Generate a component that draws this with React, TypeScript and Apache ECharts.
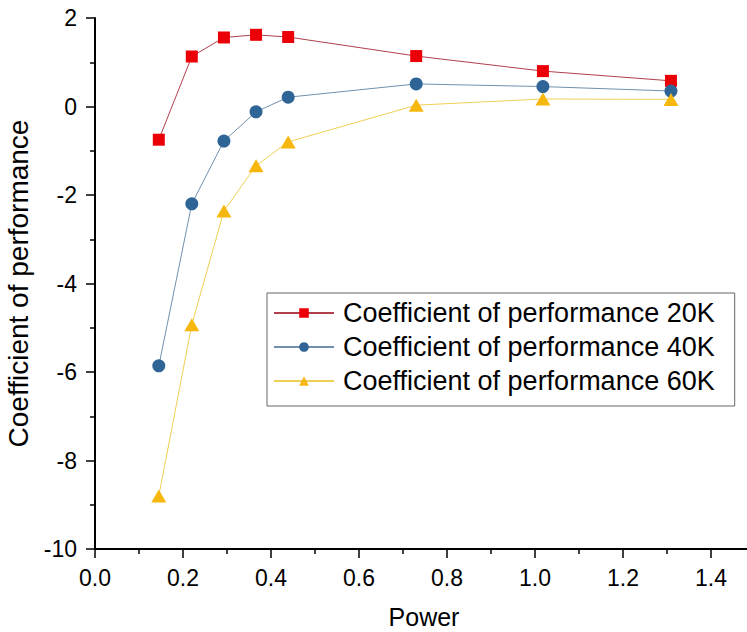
import React, { useEffect, useRef } from "react";
import * as echarts from "echarts";

const power = [0.145, 0.22, 0.293, 0.366, 0.439, 0.73, 1.018, 1.309];
const cop20K = [-0.75, 1.13, 1.56, 1.62, 1.57, 1.14, 0.8, 0.58];
const cop40K = [-5.86, -2.2, -0.78, -0.12, 0.21, 0.51, 0.45, 0.35];
const cop60K = [-8.8, -4.93, -2.36, -1.34, -0.8, 0.03, 0.17, 0.16];
const seriesNames = [
  "Coefficient of performance 20K",
  "Coefficient of performance 40K",
  "Coefficient of performance 60K",
];
const xTitle = "Power";
const yTitle = "Coefficient of performance";

const FONT = "Arial, 'Liberation Sans', sans-serif";

export default function App() {
  const ref = useRef<HTMLDivElement>(null);
  useEffect(() => {
    if (!ref.current) return;
    const chart = echarts.init(ref.current, null, { renderer: "svg" });
    const axisCommon = {
      axisLine: { show: true, onZero: false, lineStyle: { color: "#000", width: 2 } },
      axisTick: { show: true, inside: false, length: 9, lineStyle: { color: "#000", width: 1.5 } },
      minorTick: { show: true, splitNumber: 2, length: 5, lineStyle: { color: "#000", width: 1.5 } },
      splitLine: { show: false },
      minorSplitLine: { show: false },
    };
    const mk = (name: string, data: number[], symbol: string, size: any, fill: string, line: string) => ({
      name,
      type: "line",
      data: power.map((p, i) => [p, data[i]]),
      symbol,
      symbolSize: size,
      showAllSymbol: true,
      itemStyle: { color: fill, borderWidth: 0 },
      lineStyle: { color: line, width: 1 },
    });
    chart.setOption({
      animation: false,
      backgroundColor: "#fff",
      textStyle: { fontFamily: FONT },
      grid: {
        left: 95,
        right: 36,
        top: 18,
        bottom: 83,
        containLabel: false,
        outerBoundsMode: "none",
      },
      xAxis: {
        type: "value",
        min: 0,
        max: 1.4,
        interval: 0.2,
        ...axisCommon,
        axisLabel: {
          margin: 17,
          fontSize: 23,
          color: "#000",
          fontFamily: FONT,
          formatter: (v: number) => v.toFixed(1),
        },
        name: xTitle,
        nameLocation: "middle",
        nameGap: 55,
        nameTextStyle: { fontSize: 25, color: "#000", fontFamily: FONT, padding: [0, 0, 0, 42] },
      },
      yAxis: {
        type: "value",
        min: -10,
        max: 2,
        interval: 2,
        ...axisCommon,
        axisLabel: { margin: 18, fontSize: 23, color: "#000", fontFamily: FONT },
        name: yTitle,
        nameLocation: "middle",
        nameGap: 60,
        nameRotate: 90,
        nameTextStyle: { fontSize: 28, color: "#000", fontFamily: FONT },
      },
      legend: {
        show: true,
        orient: "vertical",
        left: 267,
        top: 293,
        padding: [3, 20, 8, 6],
        itemGap: 0,
        itemWidth: 60,
        itemHeight: 12,
        borderColor: "#666",
        borderWidth: 1,
        backgroundColor: "#fff",
        data: seriesNames,
        textStyle: {
          fontSize: 27,
          color: "#000",
          fontFamily: FONT,
          lineHeight: 34,
          padding: [0, 0, 0, 4],
        },
      },
      graphic: [
        {
          type: "line",
          shape: { x1: 711, y1: 549, x2: 747, y2: 549 },
          style: { stroke: "#000", lineWidth: 2 },
        },
      ],
      series: [
        mk(seriesNames[0], cop20K, "rect", 12, "#ec0008", "#b0404c"),
        mk(seriesNames[1], cop40K, "circle", 13, "#2f6497", "#7090ad"),
        mk(seriesNames[2], cop60K, "triangle", [15, 13], "#f6b80e", "#f1cf55"),
      ],
    });
    return () => chart.dispose();
  }, []);
  return (
    <div
      ref={ref}
      style={{ position: "fixed", left: 0, top: 0, width: 747, height: 632, background: "#fff" }}
    />
  );
}
